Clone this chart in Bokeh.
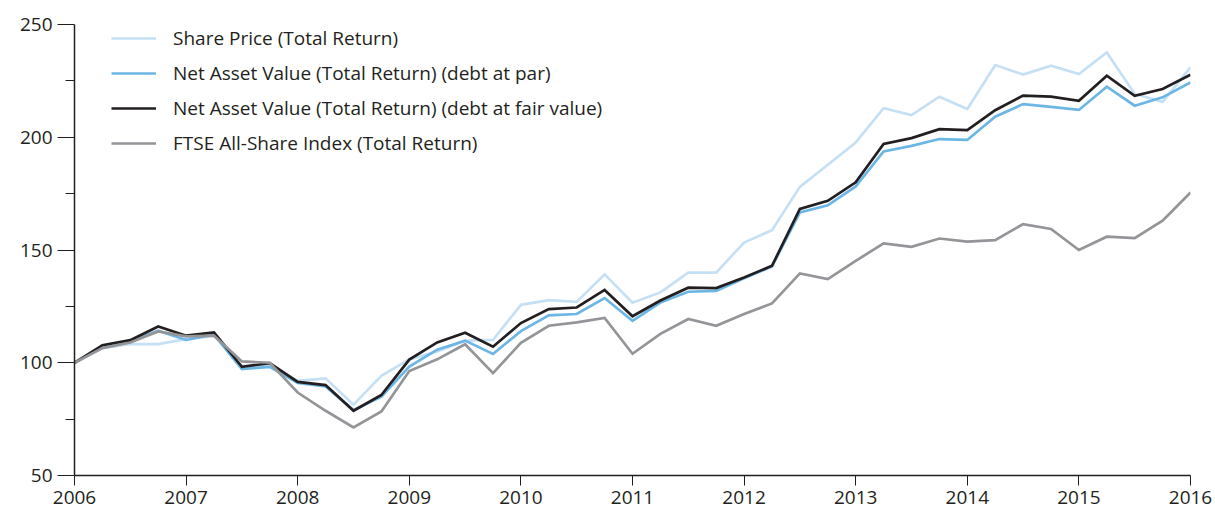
from bokeh.plotting import figure
from bokeh.models import FixedTicker, Legend, LegendItem
from bokeh.embed import file_html
from bokeh.resources import INLINE

# quarterly dates 2006.00 .. 2016.00
years = [2006 + q * 0.25 for q in range(41)]

share_price = [100, 106.5, 108.3, 108.3, 110.5, 112, 98.5, 98.7, 92, 93.1,
               81.4, 94.2, 101.5, 105, 109.8, 110.1, 125.7, 127.8, 127, 139.2,
               126.6, 131.2, 140, 140, 153.3, 158.8, 178, 187.8, 197.7, 212.9,
               209.8, 218, 212.5, 232, 227.8, 231.7, 228, 237.6, 219.2, 215.7, 231]
nav_par = [100, 107.1, 109.5, 114.2, 110.1, 112.5, 97.2, 98.2, 91, 89.5,
           79, 85, 98.3, 105.8, 109.8, 103.9, 114, 121, 121.6, 128.7,
           118.6, 126.7, 131.5, 131.9, 137.5, 142.7, 166.7, 169.8, 178.2, 193.7,
           196.2, 199.2, 198.8, 209.1, 214.7, 213.5, 212.1, 222.4, 214, 217.7, 224.3]
nav_fair = [100, 107.8, 110, 116.1, 112, 113.5, 98.2, 99.8, 91.5, 90.1,
            78.7, 85.7, 101.4, 109, 113.3, 107.1, 117.6, 123.8, 124.5, 132.3,
            120.6, 127.6, 133.3, 133.1, 137.8, 143, 168.2, 171.8, 180, 197,
            199.6, 203.6, 203.2, 212, 218.5, 218, 216.2, 227.3, 218.4, 221.4, 227.7]
ftse = [100, 106.5, 109, 113.9, 111.7, 112, 100.6, 100, 86.8, 78.7,
        71.3, 78.4, 96.3, 101.5, 108.2, 95.4, 108.8, 116.4, 117.9, 119.9,
        104, 112.8, 119.4, 116.4, 121.6, 126.3, 139.6, 137.1, 145.2, 152.9,
        151.4, 155.1, 153.7, 154.4, 161.5, 159.3, 150, 155.9, 155.3, 163, 175.5]

series_names = ["Share Price (Total Return)",
                "Net Asset Value (Total Return) (debt at par)",
                "Net Asset Value (Total Return) (debt at fair value)",
                "FTSE All-Share Index (Total Return)"]
series_colors = ["#c5e0f4", "#6cb6e6", "#231f20", "#949598"]

x_ticks = list(range(2006, 2017))
y_ticks = [50, 100, 150, 200, 250]
y_minor = [75, 125, 175, 225]

FONT = "Open Sans"
TXT = "#231f20"

p = figure(width=1214, height=512, x_range=(2006, 2016), y_range=(50, 250),
           output_backend="svg", toolbar_location=None,
           min_border_left=74, min_border_right=24, min_border_top=24, min_border_bottom=37)
p.outline_line_color = None
p.xgrid.visible = False
p.ygrid.visible = False
p.background_fill_color = "white"

renderers = []
for vals, col in zip([share_price, nav_par, nav_fair, ftse], series_colors):
    r = p.line(years, vals, line_color=col, line_width=2.7, line_join="miter")
    renderers.append(r)

legend = Legend(items=[LegendItem(label=n, renderers=[r]) for n, r in zip(series_names, renderers)],
                location=(37, 319), padding=0, margin=0, spacing=9,
                glyph_width=45, glyph_height=20, label_height=20, label_standoff=17,
                background_fill_alpha=0, border_line_alpha=0,
                label_text_font=FONT, label_text_font_size="19px", label_text_color=TXT)
p.add_layout(legend)

xa = p.xaxis[0]
xa.ticker = FixedTicker(ticks=x_ticks)
xa.axis_line_color = TXT
xa.axis_line_width = 1.5
xa.major_tick_line_color = TXT
xa.major_tick_out = 10
xa.major_tick_in = 0
xa.minor_tick_line_color = None
xa.major_label_standoff = 5
xa.major_label_text_font = FONT
xa.major_label_text_font_size = "19px"
xa.major_label_text_color = TXT

ya = p.yaxis[0]
ya.ticker = FixedTicker(ticks=y_ticks, minor_ticks=y_minor)
ya.axis_line_color = TXT
ya.axis_line_width = 1.5
ya.major_tick_line_color = TXT
ya.major_tick_out = 17
ya.major_tick_in = 0
ya.minor_tick_line_color = TXT
ya.minor_tick_out = 9
ya.minor_tick_in = 0
ya.major_label_standoff = 5
ya.major_label_text_font = FONT
ya.major_label_text_font_size = "19px"
ya.major_label_text_color = TXT

open("out.html", "w").write(file_html(p, INLINE))
